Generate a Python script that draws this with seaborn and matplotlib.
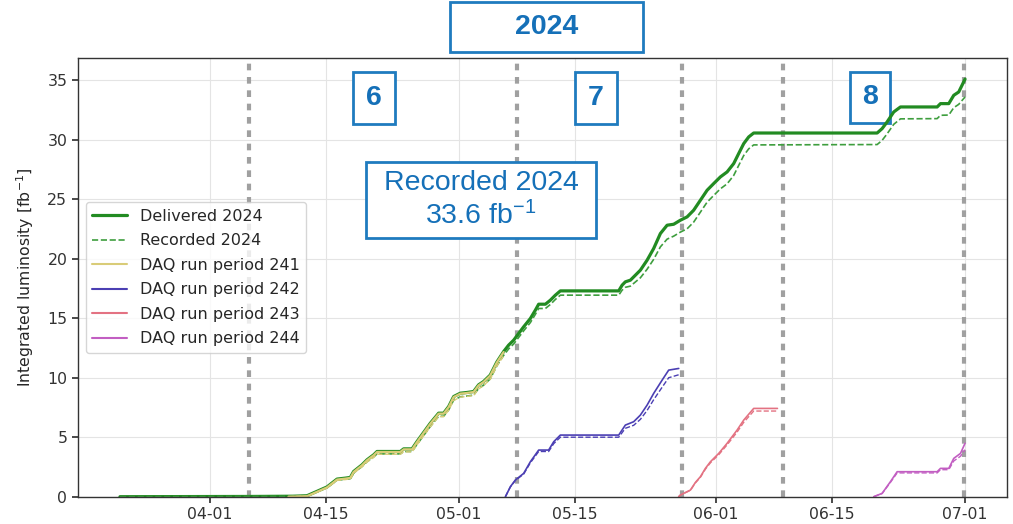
import numpy as np
import pandas as pd
import matplotlib
matplotlib.use("Agg")
import matplotlib.pyplot as plt
import matplotlib.dates as mdates
from matplotlib.ticker import MultipleLocator
from matplotlib.patches import Rectangle
from matplotlib.lines import Line2D
import seaborn as sns

# ---------------------------------------------------------------------------
# Data: x values are days since 2024-04-01 00:00, y values in fb^-1
# ---------------------------------------------------------------------------
START = pd.Timestamp("2024-04-01")

total_day = [-10.8, -3.0, 5.0, 10.0, 11.73, 12.94, 14.14, 15.35, 16.35, 16.95,
             17.35, 18.36, 18.96, 19.76, 20.17, 22.98, 23.37, 24.39, 24.99, 25.78,
             26.59, 27.59, 28.19, 28.8, 29.4, 30.2, 31.0, 31.8, 32.4, 33.0,
             33.8, 34.6, 35.42, 36.02, 36.63, 37.23, 37.83, 38.64, 39.24, 39.64,
             40.45, 41.05, 41.65, 42.25, 49.28, 49.69, 50.08, 50.69, 51.29, 51.89,
             52.70, 53.49, 54.30, 55.11, 55.90, 56.71, 57.52, 58.31, 59.12, 59.93,
             60.72, 61.53, 62.34, 63.13, 63.73, 64.34, 64.94, 65.54, 80.41, 81.01,
             81.61, 82.41, 83.22, 87.64, 88.04, 89.04, 89.64, 90.24, 91.0]

delivered_2024 = [0.0, 0.01, 0.02, 0.04, 0.08, 0.45, 0.82, 1.48, 1.56, 1.62,
                  2.12, 2.68, 3.10, 3.52, 3.80, 3.80, 4.02, 4.02, 4.64, 5.40,
                  6.18, 7.02, 7.02, 7.58, 8.42, 8.70, 8.76, 8.84, 9.40, 9.68,
                  10.22, 11.32, 12.20, 12.74, 13.16, 13.72, 14.28, 14.98, 15.68, 16.18,
                  16.18, 16.52, 16.94, 17.30, 17.30, 17.78, 18.06, 18.20, 18.62, 19.04,
                  19.88, 20.86, 22.12, 22.82, 22.90, 23.24, 23.52, 24.08, 24.92, 25.76,
                  26.32, 26.88, 27.30, 28.00, 28.84, 29.68, 30.24, 30.57, 30.57, 30.94,
                  31.50, 32.34, 32.76, 32.76, 33.04, 33.04, 33.74, 34.02, 35.10]

recorded_2024 = [0.0, 0.01, 0.02, 0.03, 0.07, 0.42, 0.77, 1.40, 1.47, 1.52,
                 2.00, 2.54, 2.94, 3.34, 3.60, 3.60, 3.80, 3.80, 4.40, 5.14,
                 5.90, 6.76, 6.76, 7.30, 8.12, 8.40, 8.46, 8.54, 9.09, 9.37,
                 9.90, 11.00, 11.88, 12.42, 12.84, 13.39, 13.94, 14.64, 15.33, 15.82,
                 15.82, 16.16, 16.58, 16.94, 16.94, 17.36, 17.60, 17.70, 18.05, 18.40,
                 19.12, 19.95, 21.00, 21.65, 21.90, 22.24, 22.52, 23.08, 23.92, 24.76,
                 25.32, 25.88, 26.30, 27.00, 27.84, 28.68, 29.24, 29.57, 29.60, 29.95,
                 30.50, 31.30, 31.76, 31.78, 32.06, 32.08, 32.70, 32.98, 33.60]

# DAQ run period 241
p241_day = [9.5, 11.73, 12.94, 14.14, 15.35, 16.35, 16.95, 17.35, 18.36, 18.96,
            19.76, 20.17, 22.98, 23.37, 24.39, 24.99, 25.78, 26.59, 27.59, 28.19,
            28.8, 29.4, 30.2, 31.0, 31.8, 32.4, 33.0, 33.8, 34.6, 35.42]
p241_del = [0.0, 0.04, 0.41, 0.78, 1.44, 1.52, 1.58, 2.08, 2.64, 3.06,
            3.48, 3.76, 3.76, 3.98, 3.98, 4.60, 5.36, 6.14, 6.98, 6.98,
            7.54, 8.38, 8.66, 8.72, 8.80, 9.36, 9.64, 10.18, 11.28, 12.16]
p241_rec = [0.0, 0.04, 0.39, 0.74, 1.37, 1.44, 1.49, 1.97, 2.51, 2.91,
            3.31, 3.57, 3.57, 3.77, 3.77, 4.37, 5.11, 5.87, 6.73, 6.73,
            7.27, 8.09, 8.37, 8.43, 8.51, 9.06, 9.34, 9.87, 10.97, 11.85]

# DAQ run period 242
p242_day = [35.63, 36.23, 36.83, 37.83, 38.64, 39.64, 40.84, 41.45, 42.25, 49.28,
            50.08, 51.08, 51.89, 52.70, 53.49, 54.51, 55.30, 56.51]
p242_del = [0.0, 0.84, 1.40, 1.96, 2.94, 3.92, 3.92, 4.62, 5.18, 5.18,
            6.02, 6.30, 6.86, 7.70, 8.68, 9.80, 10.64, 10.78]
p242_rec = [0.0, 0.82, 1.37, 1.90, 2.85, 3.80, 3.80, 4.46, 5.00, 5.00,
            5.75, 6.00, 6.50, 7.25, 8.15, 9.20, 10.00, 10.25]

# DAQ run period 243
p243_day = [56.5, 56.7, 57.92, 58.52, 59.12, 59.72, 60.33, 60.73, 61.33, 62.34,
            63.54, 64.34, 65.54, 68.4]
p243_del = [0.0, 0.14, 0.56, 1.20, 1.68, 2.38, 2.94, 3.22, 3.64, 4.49,
            5.60, 6.44, 7.42, 7.42]
p243_rec = [0.0, 0.13, 0.54, 1.16, 1.63, 2.31, 2.85, 3.12, 3.53, 4.36,
            5.43, 6.25, 7.20, 7.20]

# DAQ run period 244
p244_day = [80.0, 81.01, 82.01, 82.82, 87.64, 88.04, 89.04, 89.64, 90.45, 91.0]
p244_del = [0.0, 0.28, 1.26, 2.10, 2.10, 2.38, 2.38, 3.22, 3.64, 4.49]
p244_rec = [0.0, 0.27, 1.20, 2.00, 2.00, 2.27, 2.27, 3.00, 3.40, 3.95]

# run-period boundaries (dashed grey verticals)
boundary_day = [4.8, 37.0, 56.9, 69.05, 90.9]

# ---------------------------------------------------------------------------
# Styling
# ---------------------------------------------------------------------------
sns.set_theme(style="whitegrid", rc={
    "axes.edgecolor": "#333333",
    "axes.linewidth": 1.0,
    "grid.color": "#e4e4e4",
    "grid.linewidth": 0.8,
    "xtick.bottom": True,
    "ytick.left": True,
    "xtick.color": "#333333",
    "ytick.color": "#333333",
    "xtick.labelsize": 11.3,
    "ytick.labelsize": 11.3,
    "axes.labelsize": 11.3,
    "xtick.major.size": 4,
    "ytick.major.size": 4,
    "axes.labelcolor": "#262626",
})
plt.rcParams["font.family"] = ["DejaVu Sans"]
plt.rcParams["mathtext.rm"] = "Liberation Sans"
plt.rcParams["mathtext.it"] = "Liberation Sans:italic"
plt.rcParams["mathtext.bf"] = "Liberation Sans:bold"

GREEN = "#228b22"
GREEN_REC = "#3e9e3e"
PERIOD_COLORS = {"241": "#d9cc78", "242": "#4b3fb3", "243": "#e37282", "244": "#c25ec2"}
PERIOD_LW = {"241": 1.6, "242": 1.2, "243": 1.2, "244": 1.2}
BOX_BLUE = "#1f7bbf"
TEXT_BLUE = "#1570b8"

W, H = 1013, 524
fig = plt.figure(figsize=(W / 100, H / 100), dpi=100)
ax = fig.add_axes([77.7 / W, 1 - 496.7 / H, (1007.3 - 77.7) / W, (496.7 - 58.3) / H])


def to_frame(days, vals):
    return pd.DataFrame({"date": START + pd.to_timedelta(days, unit="D"), "lumi": vals})


def draw(days, vals, color, lw, ls):
    sns.lineplot(data=to_frame(days, vals), x="date", y="lumi", color=color,
                 linewidth=lw, linestyle=ls, sort=False, estimator=None,
                 legend=False, ax=ax, zorder=2)


draw(total_day, delivered_2024, GREEN, 2.3, "-")
draw(total_day, recorded_2024, GREEN_REC, 1.2, "--")

periods = [("241", p241_day, p241_del, p241_rec),
           ("242", p242_day, p242_del, p242_rec),
           ("243", p243_day, p243_del, p243_rec),
           ("244", p244_day, p244_del, p244_rec)]
for name, d, dl, rc in periods:
    draw(d, dl, PERIOD_COLORS[name], PERIOD_LW[name], "-")
    draw(d, rc, PERIOD_COLORS[name], 1.0, "--")

for d in boundary_day:
    ax.axvline(START + pd.Timedelta(days=d), color="#a0a0a0", lw=3.0,
               linestyle=(0, (1.6, 1.6)), zorder=1.5)

ax.set_ylim(0, 36.85)
ax.yaxis.set_major_locator(MultipleLocator(5))
ax.xaxis.set_major_locator(mdates.DayLocator(bymonthday=[1, 15]))
ax.xaxis.set_major_formatter(mdates.DateFormatter("%m-%d"))
ax.set_xlabel("")
ax.set_ylabel("Integrated luminosity [fb$^{-1}$]", math_fontfamily="dejavusans",
              labelpad=8)
for sp in ax.spines.values():
    sp.set_visible(True)
    sp.set_color("#333333")

handles = [
    Line2D([], [], color=GREEN, lw=2.3, label="Delivered 2024"),
    Line2D([], [], color=GREEN_REC, lw=1.2, ls="--", label="Recorded 2024"),
] + [Line2D([], [], color=PERIOD_COLORS[n], lw=1.5, label=f"DAQ run period {n}")
     for n in PERIOD_COLORS]
leg = ax.legend(handles=handles, loc="center left", fontsize=11.5, frameon=True,
                framealpha=0.8, edgecolor="#cccccc", handlelength=2.2,
                labelspacing=0.6)
leg.set_zorder(5)


# ---------------------------------------------------------------------------
# Framed labels (positions in figure pixels); drawn beneath the curves
# ---------------------------------------------------------------------------
def framed(x0, y0, x1, y1, text, weight="normal", size=20.5):
    ax.add_patch(Rectangle((x0 / W, 1 - y1 / H), (x1 - x0) / W, (y1 - y0) / H,
                           transform=fig.transFigure, facecolor="white",
                           edgecolor=BOX_BLUE, lw=2.0, zorder=1.8, clip_on=False))
    ax.text((x0 + x1) / 2 / W, 1 - (y0 + y1) / 2 / H, text,
            transform=fig.transFigure, ha="center", va="center",
            color=TEXT_BLUE, fontsize=size, fontweight=weight,
            family="Liberation Sans", math_fontfamily="custom",
            zorder=6, clip_on=False)


framed(450, 2, 643, 52, "2024", weight="bold")
framed(353, 72, 395, 124, "6", weight="bold")
framed(575, 72, 617, 124, "7", weight="bold")
framed(850, 72, 890, 123, "8", weight="bold")
framed(366, 162, 596, 238, "Recorded 2024\n33.6 fb$^{-1}$", size=20.5)

fig.savefig("out.png", dpi=100)
